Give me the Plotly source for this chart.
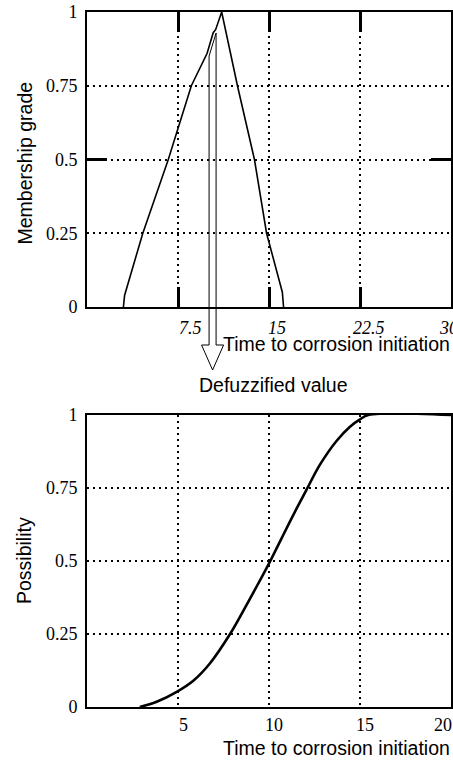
import plotly.graph_objects as go
from plotly.subplots import make_subplots

# membership function (top)
tri_x = [3.0, 3.1, 4.6, 6.7, 8.6, 9.9, 10.4, 10.6, 11.1, 12.4, 13.8, 14.8, 16.1, 16.2]
tri_y = [0.0, 0.04, 0.25, 0.5, 0.75, 0.86, 0.93, 0.94, 1.0, 0.75, 0.5, 0.25, 0.05, 0.0]
top_xticks = [7.5, 15, 22.5, 30]
top_xlabels = ["7.5", "15", "22.5", "30"]

# possibility curve (bottom)
poss_x = [2.9, 3.83, 4.93, 5.84, 6.76, 7.86, 8.77, 9.69, 10.15, 10.79, 11.52, 12.07, 12.8, 13.72, 14.45, 15.0, 15.46, 20.0]
poss_y = [0.0, 0.018, 0.052, 0.09, 0.15, 0.25, 0.35, 0.455, 0.51, 0.59, 0.68, 0.745, 0.83, 0.912, 0.96, 0.985, 1.0, 1.0]
bot_xticks = [5, 10, 15, 20]
bot_xlabels = ["5", "10", "15", "20"]

yticks = [0, 0.25, 0.5, 0.75, 1]
ylabels = ["0", "0.25", "0.5", "0.75", "1"]

defuzzified = 10.35

# label pixel offsets (style only)
top_label_dx = [12, 8, 9, -3]
bot_label_dx = [5, 5, 5, -8]

W, H = 453, 763
ML, MR, MT, MB = 87, 2, 12, 56
ph = H - MT - MB
top_dom = [(H - MB - 307) / ph, 1.0]
bot_dom = [0.0, (H - MB - 415) / ph]

fig = make_subplots(rows=2, cols=1)
fig.add_trace(go.Scatter(x=tri_x, y=tri_y, mode="lines",
                         line=dict(color="black", width=1.6)), row=1, col=1)
fig.add_trace(go.Scatter(x=poss_x, y=poss_y, mode="lines", line_shape="spline",
                         line=dict(color="black", width=2.6, smoothing=1.0)), row=2, col=1)

serif = "Liberation Serif, Times New Roman, serif"
sans = "Liberation Sans, Arial, sans-serif"

common_ax = dict(showline=True, linecolor="black", linewidth=2, mirror=True,
                 showgrid=True, gridcolor="black", griddash="2px,4px", gridwidth=1.5,
                 zeroline=False, automargin=False)

fig.update_layout(
    width=W, height=H, margin=dict(l=ML, r=MR, t=MT, b=MB, autoexpand=False),
    plot_bgcolor="white", paper_bgcolor="white", showlegend=False,
    xaxis=dict(domain=[0, 1], range=[0, 30], tickvals=top_xticks, showticklabels=False,
               ticks="inside", ticklen=20, tickwidth=2.5, tickcolor="black",
               **{**common_ax, "mirror": "ticks"}),
    yaxis=dict(domain=top_dom, range=[0, 1], tickvals=yticks, ticktext=ylabels,
               ticks="", tickfont=dict(family=serif, size=18, color="black"),
               ticklabelstandoff=4,
               minor=dict(tickvals=[0.5], ticks="inside", ticklen=20, tickwidth=2.5,
                          tickcolor="black", showgrid=False),
               **{**common_ax, "mirror": "ticks"}),
    xaxis2=dict(domain=[0, 1], range=[0, 20], tickvals=bot_xticks, showticklabels=False,
                ticks="", **common_ax),
    yaxis2=dict(domain=bot_dom, range=[0, 1], tickvals=yticks, ticktext=ylabels,
                ticks="", tickfont=dict(family=serif, size=18, color="black"),
                ticklabelstandoff=4, **common_ax),
)

# x tick labels
for v, lab, dx in zip(top_xticks, top_xlabels, top_label_dx):
    fig.add_annotation(text=lab, xref="x", yref="paper", x=v, y=top_dom[0],
                       xanchor="center", yanchor="middle", xshift=dx, yshift=-21,
                       showarrow=False,
                       font=dict(family=serif, size=18, color="black", style="italic"))
for v, lab, dx in zip(bot_xticks, bot_xlabels, bot_label_dx):
    fig.add_annotation(text=lab, xref="x2", yref="paper", x=v, y=bot_dom[0],
                       xanchor="center", yanchor="middle", xshift=dx, yshift=-18,
                       showarrow=False,
                       font=dict(family=serif, size=18, color="black"))

tfont = dict(family=sans, size=19.5, color="black")
fig.add_annotation(text="Time to corrosion initiation", xref="paper", yref="paper",
                   x=1.0, y=top_dom[0], xanchor="right", yanchor="middle", yshift=-37,
                   xshift=1, showarrow=False, font=tfont)
fig.add_annotation(text="Time to corrosion initiation", xref="paper", yref="paper",
                   x=1.0, y=0, xanchor="right", yanchor="middle", yshift=-41,
                   xshift=1, showarrow=False, font=tfont)
fig.add_annotation(text="Defuzzified value", xref="paper", yref="paper",
                   x=(273 - ML) / (W - ML - MR), y=top_dom[0], xanchor="center", yanchor="middle",
                   yshift=-(385 - 307), showarrow=False, font=tfont)
fig.add_annotation(text="Membership grade", xref="paper", yref="paper", textangle=-90,
                   x=0, y=(top_dom[0] + top_dom[1]) / 2, xanchor="center", yanchor="middle",
                   xshift=-(ML - 24), yshift=-4, showarrow=False, font=tfont)
fig.add_annotation(text="Possibility", xref="paper", yref="paper", textangle=-90,
                   x=0, y=(bot_dom[0] + bot_dom[1]) / 2, xanchor="center", yanchor="middle",
                   xshift=-(ML - 24), showarrow=False, font=tfont)

# hollow block arrow from the defuzzified value down
fig.add_shape(type="path", xref="x", yref="paper", xsizemode="pixel", ysizemode="pixel",
              xanchor=defuzzified, yanchor=top_dom[0],
              path="M -3.5 251 L -3.5 -38 L -11 -38 L 0 -63 L 11 -38 L 3.5 -38 L 3.5 274 Z",
              line=dict(color="black", width=1), fillcolor="rgba(0,0,0,0)", layer="above")

fig.write_html("out.html")
